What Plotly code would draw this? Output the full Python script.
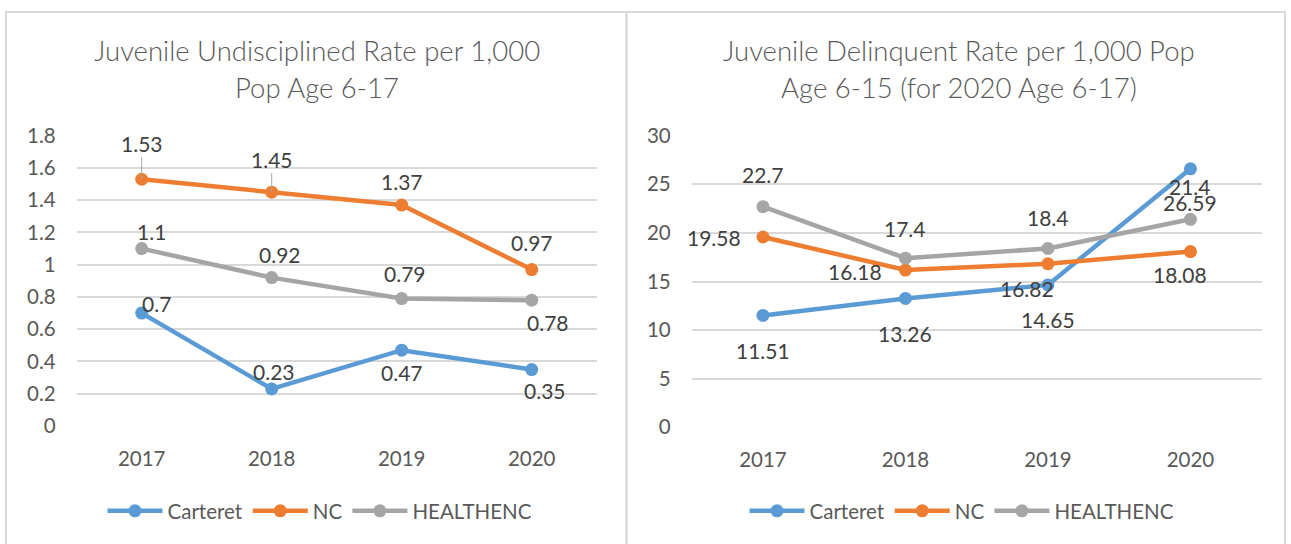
import plotly.graph_objects as go

years = ["2017", "2018", "2019", "2020"]

# Left chart: Juvenile Undisciplined Rate per 1,000 Pop Age 6-17
undisc_carteret = [0.7, 0.23, 0.47, 0.35]
undisc_nc = [1.53, 1.45, 1.37, 0.97]
undisc_healthenc = [1.1, 0.92, 0.79, 0.78]

# Right chart: Juvenile Delinquent Rate per 1,000 Pop Age 6-15 (2020: 6-17)
delinq_carteret = [11.51, 13.26, 14.65, 26.59]
delinq_nc = [19.58, 16.18, 16.82, 18.08]
delinq_healthenc = [22.7, 17.4, 18.4, 21.4]

series_names = ["Carteret", "NC", "HEALTHENC"]
colors = ["#5B9BD5", "#ED7D31", "#A5A5A5"]

left_title = ["Juvenile Undisciplined Rate per 1,000", "Pop Age 6-17"]
right_title = ["Juvenile Delinquent Rate per 1,000 Pop", "Age 6-15 (for 2020 Age 6-17)"]

left_yticks = [0, 0.2, 0.4, 0.6, 0.8, 1, 1.2, 1.4, 1.6, 1.8]
left_yticktext = ["0", "0.2", "0.4", "0.6", "0.8", "1", "1.2", "1.4", "1.6", "1.8"]
right_yticks = [0, 5, 10, 15, 20, 25, 30]

# label offsets (pixels: dx, dy-up) per series per point
left_offsets = [
    [(15, 10), (2, 17), (0, -22), (13, -21)],
    [(0, 36), (0, 33), (0, 24), (0, 27)],
    [(10, 17), (8, 23), (3, 25), (16, -22)],
]
right_offsets = [
    [(0, -35), (0, -35), (0, -35), (0, -34)],
    [(-49, -1), (-50, -1), (-21, -25), (-10, -23)],
    [(0, 32), (0, 30), (0, 31), (0, 33)],
]

FONT = "Lato"
W, H = 1291, 544

fig = go.Figure()

left_data = [undisc_carteret, undisc_nc, undisc_healthenc]
right_data = [delinq_carteret, delinq_nc, delinq_healthenc]

for i, name in enumerate(series_names):
    fig.add_trace(go.Scatter(
        x=years, y=left_data[i], name=name, mode="lines+markers",
        line=dict(color=colors[i], width=4.5), marker=dict(color=colors[i], size=13),
        xaxis="x", yaxis="y", legend="legend", hoverinfo="x+y+name"))
for i, name in enumerate(series_names):
    fig.add_trace(go.Scatter(
        x=years, y=right_data[i], name=name, mode="lines+markers",
        line=dict(color=colors[i], width=4.5), marker=dict(color=colors[i], size=13),
        xaxis="x2", yaxis="y2", legend="legend2", hoverinfo="x+y+name"))

annotations = []
label_font = dict(family=FONT, size=21, color="#404040")

def fmt(v):
    return ("%g" % v)

for i in range(3):
    for j in range(len(years)):
        dx, dy = left_offsets[i][j]
        v = left_data[i][j]
        if i == 1 and j in (0, 1):
            annotations.append(dict(
                x=j, y=v, xref="x", yref="y", text=fmt(v), showarrow=True,
                arrowhead=0, arrowwidth=1, arrowcolor="#A6A6A6", ax=dx, ay=-dy,
                standoff=0, font=label_font))
        else:
            annotations.append(dict(
                x=j, y=v, xref="x", yref="y", text=fmt(v), showarrow=False,
                xshift=dx, yshift=dy, font=label_font))
for i in range(3):
    for j in range(len(years)):
        dx, dy = right_offsets[i][j]
        v = right_data[i][j]
        annotations.append(dict(
            x=j, y=v, xref="x2", yref="y2", text=fmt(v), showarrow=False,
            xshift=dx, yshift=dy, font=label_font))

title_font = dict(family=FONT, size=27.5, color="#595959", weight=300)
for k, line in enumerate(left_title):
    annotations.append(dict(x=317 / W, y=1 - (50 + 37 * k) / H, xref="paper", yref="paper",
                            text=line, showarrow=False, font=title_font,
                            xanchor="center", yanchor="middle"))
for k, line in enumerate(right_title):
    annotations.append(dict(x=959 / W, y=1 - (50 + 37 * k) / H, xref="paper", yref="paper",
                            text=line, showarrow=False, font=title_font,
                            xanchor="center", yanchor="middle"))

shapes = [
    dict(type="rect", xref="paper", yref="paper", x0=6 / W, x1=626.5 / W,
         y0=-0.05, y1=1 - 12 / H, line=dict(color="#D9D9D9", width=2)),
    dict(type="rect", xref="paper", yref="paper", x0=626.5 / W, x1=1285 / W,
         y0=-0.05, y1=1 - 12 / H, line=dict(color="#D9D9D9", width=2)),
]

tick_font = dict(family=FONT, size=20.5, color="#595959")
xaxis_common = dict(type="category", range=[-0.5, 3.5], showgrid=False, zeroline=False,
                    showline=False, ticks="", tickfont=tick_font, ticklabelstandoff=18,
                    automargin=False)
yaxis_common = dict(showgrid=True, gridcolor="#D9D9D9", gridwidth=1.5, zeroline=False,
                    showline=False, ticks="", tickfont=tick_font, ticklabelstandoff=20,
                    automargin=False)

legend_font = dict(family=FONT, size=20.5, color="#595959")

fig.update_layout(
    width=W, height=H,
    margin=dict(l=0, r=0, t=0, b=0, pad=0, autoexpand=False),
    paper_bgcolor="white", plot_bgcolor="white",
    font=dict(family=FONT, color="#595959"),
    xaxis=dict(domain=[76.7 / W, 596.7 / W], anchor="y", **xaxis_common),
    yaxis=dict(domain=[1 - 426 / H, 1 - 135.7 / H], anchor="x", range=[0, 1.8],
               tickvals=left_yticks, ticktext=left_yticktext, **yaxis_common),
    xaxis2=dict(domain=[691.7 / W, 1261.7 / W], anchor="y2", **xaxis_common),
    yaxis2=dict(domain=[1 - 427.3 / H, 1 - 135.7 / H], anchor="x2", range=[0, 30],
                tickvals=right_yticks, **yaxis_common),
    legend=dict(orientation="h", x=320 / W, y=1 - 511 / H, xanchor="center", yanchor="middle",
                font=legend_font, bgcolor="rgba(0,0,0,0)",
                itemwidth=55, traceorder="normal"),
    legend2=dict(orientation="h", x=962 / W, y=1 - 511 / H, xanchor="center", yanchor="middle",
                 font=legend_font, bgcolor="rgba(0,0,0,0)",
                 itemwidth=55, traceorder="normal"),
    annotations=annotations,
    shapes=shapes,
    showlegend=True,
)

fig.write_html("out.html", config={"displayModeBar": False},
               post_script="document.body.style.margin='0';document.body.style.overflow='hidden';")
